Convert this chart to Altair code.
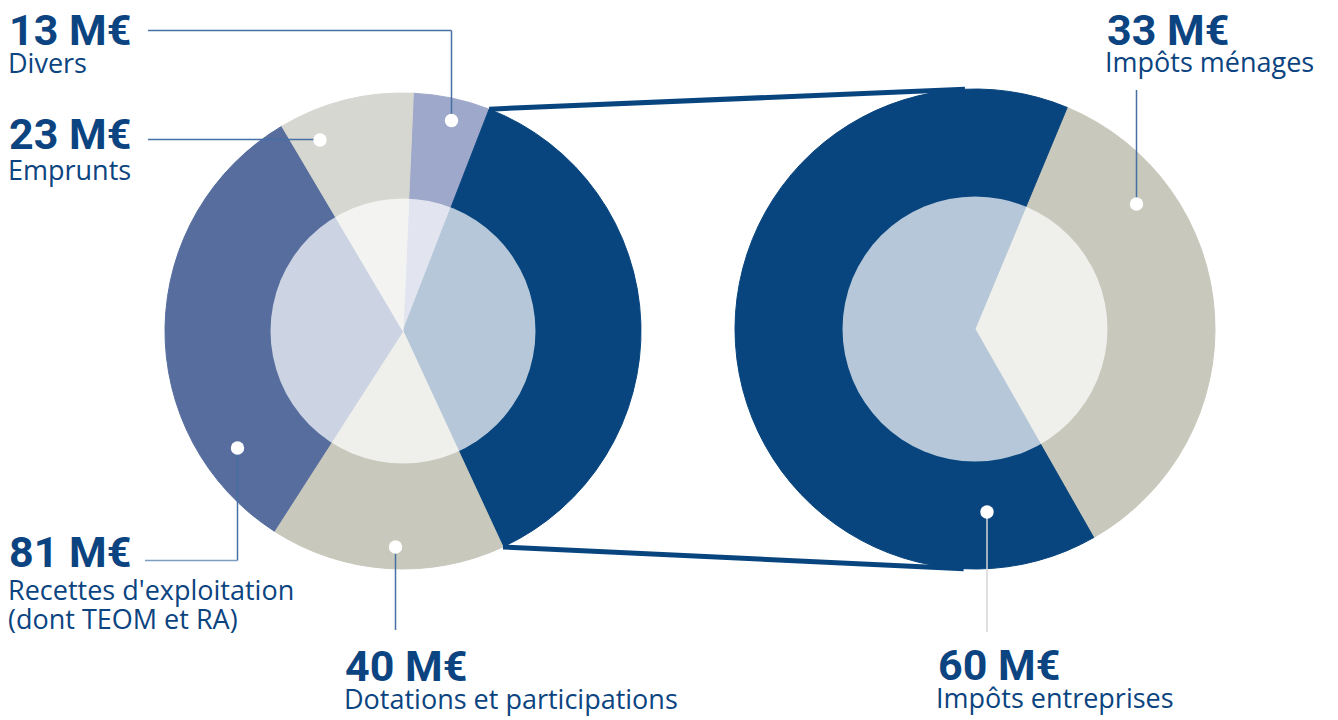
import math
import altair as alt
import pandas as pd

# ---------------- data ----------------
left_categories = ["Divers", "Impôts", "Dotations et participations",
                   "Recettes d'exploitation (dont TEOM et RA)", "Emprunts"]
right_categories = ["Impôts ménages", "Impôts entreprises"]
right_values = [33, 60]
left_values = [13, sum(right_values), 40, 81, 23]
left_colors = ["#9ea8ca", "#08457e", "#c8c8bc", "#566d9e", "#d7d7d1"]
right_colors = ["#c8c8bc", "#08457e"]

label_values = [13, 23, 81, 40, 60, 33]
label_names = ["Divers", "Emprunts", "Recettes d'exploitation", "(dont TEOM et RA)",
               "Dotations et participations", "Impôts entreprises", "Impôts ménages"]

# ---------------- layout ----------------
W, H = 1338, 720
LCX, LCY, LR = 403, 331, 238
RCX, RCY, RR = 975, 329, 240
INNER = 132.5
TAU = 2 * math.pi
L_START = math.radians(2.5)
R_START = math.radians(22.6)
DARK = "#08457e"
TXT = "#0b4480"
LEAD = "#4670a3"

left_df = pd.DataFrame({"cat": left_categories, "value": left_values,
                        "color": left_colors, "ord": list(range(len(left_values)))})
right_df = pd.DataFrame({"cat": right_categories, "value": right_values,
                         "color": right_colors, "ord": list(range(len(right_values)))})


def pie(df, cx, cy, r, start):
    return alt.Chart(df).mark_arc(outerRadius=r).encode(
        x=alt.value(cx), y=alt.value(cy),
        theta=alt.Theta("value:Q", stack=True,
                        scale=alt.Scale(type="linear", zero=True, nice=False,
                                        range=[start, start + TAU])),
        color=alt.Color("color:N", scale=None, legend=None),
        stroke=alt.Color("color:N", scale=None, legend=None),
        order=alt.Order("ord:Q"),
    )


left_pie = pie(left_df, LCX, LCY, LR, L_START)
right_pie = pie(right_df, RCX, RCY, RR, R_START)

overlay = alt.Chart(pd.DataFrame({"cx": [LCX, RCX], "cy": [LCY, RCY]})).mark_arc(
    outerRadius=INNER, theta=0, theta2=TAU, color="white", opacity=0.7
).encode(x=alt.X("cx:Q", scale=None, axis=None), y=alt.Y("cy:Q", scale=None, axis=None))

# connector lines (from the Impôts slice edges to the tangents of the right pie)
tot = sum(left_values)
a0 = L_START + left_values[0] / tot * TAU
a1 = a0 + left_values[1] / tot * TAU
p_top = (LCX + LR * math.sin(a0), LCY - LR * math.cos(a0))
p_bot = (LCX + LR * math.sin(a1), LCY - LR * math.cos(a1))


def tangent(p, upper):
    dx, dy = RCX - p[0], RCY - p[1]
    d = math.hypot(dx, dy)
    L = math.sqrt(d * d - RR * RR)
    base = math.atan2(dy, dx)
    off = math.asin(RR / d)
    ang = base - off if upper else base + off
    return (p[0] + L * math.cos(ang), p[1] + L * math.sin(ang))


t_top = tangent(p_top, True)
t_bot = tangent(p_bot, False)
conn_df = pd.DataFrame({"x": [p_top[0], p_bot[0]], "y": [p_top[1], p_bot[1]],
                        "x2": [t_top[0], t_bot[0]], "y2": [t_top[1], t_bot[1]]})
connectors = alt.Chart(conn_df).mark_rule(strokeWidth=5, color=DARK).encode(
    x=alt.X("x:Q", scale=None, axis=None), y=alt.Y("y:Q", scale=None, axis=None),
    x2="x2:Q", y2="y2:Q")

# leader lines
seg_x = [148, 451.5, 148, 237.5, 145, 395.5, 1136.5, 987]
seg_y = [30.5, 30.5, 139.5, 448, 560.5, 547, 90, 512]
seg_x2 = [451.5, 451.5, 320, 237.5, 237.5, 395.5, 1136.5, 987]
seg_y2 = [30.5, 120.5, 139.5, 560.5, 560.5, 630, 203, 632]
seg_c = [LEAD, LEAD, LEAD, LEAD, "#7d9dc2", LEAD, LEAD, "#d6d6d6"]
lead_df = pd.DataFrame({"x": seg_x, "y": seg_y, "x2": seg_x2, "y2": seg_y2, "c": seg_c})
leaders = alt.Chart(lead_df).mark_rule(strokeWidth=1.5).encode(
    x=alt.X("x:Q", scale=None, axis=None), y=alt.Y("y:Q", scale=None, axis=None),
    x2="x2:Q", y2="y2:Q", color=alt.Color("c:N", scale=None, legend=None))

dot_df = pd.DataFrame({"x": [451.5, 320, 237.5, 395.5, 987, 1136.5],
                       "y": [120.5, 140, 448, 547, 512, 204]})
dots = alt.Chart(dot_df).mark_circle(size=180, color="white", opacity=1).encode(
    x=alt.X("x:Q", scale=None, axis=None), y=alt.Y("y:Q", scale=None, axis=None))

# texts
val_df = pd.DataFrame({"x": [9, 9, 9, 345, 938, 1107],
                       "y": [45, 149, 567, 681, 680, 45],
                       "t": [f"{v} M€" for v in label_values]})
values = alt.Chart(val_df).mark_text(
    align="left", baseline="alphabetic", fontSize=43, fontWeight="bold",
    font="Roboto", color=TXT
).encode(x=alt.X("x:Q", scale=None, axis=None), y=alt.Y("y:Q", scale=None, axis=None), text="t:N")

name_df = pd.DataFrame({"x": [8, 8, 8, 8, 344, 936, 1105],
                        "y": [73, 180, 600, 629, 709, 708, 72],
                        "t": label_names})
names = alt.Chart(name_df).mark_text(
    align="left", baseline="alphabetic", fontSize=27, font="Open Sans", color=TXT
).encode(x=alt.X("x:Q", scale=None, axis=None), y=alt.Y("y:Q", scale=None, axis=None), text="t:N")

chart = alt.layer(left_pie, right_pie, overlay, connectors, leaders, dots, values, names).resolve_scale(
    theta="independent"
).properties(
    width=W, height=H, autosize=alt.AutoSizeParams(type="none"), padding=0, background="white"
).configure_view(stroke=None)

chart.save("out.html", embed_options={"renderer": "svg", "actions": False})
